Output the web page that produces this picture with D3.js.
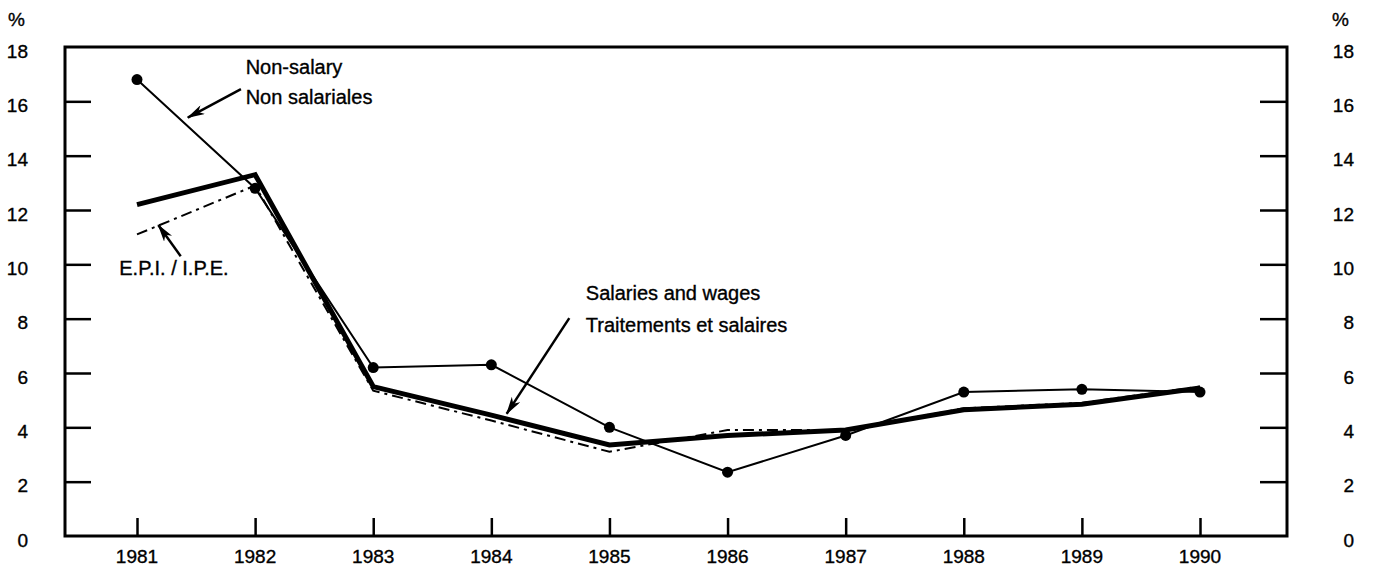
<!DOCTYPE html>
<html>
<head>
<meta charset="utf-8">
<script src="https://cdn.jsdelivr.net/npm/d3@7"></script>
<style>
    body { margin: 0; background: #fff; }
    text { font-family: "Liberation Sans", Arial, Helvetica, sans-serif; fill: #000; stroke: #000; stroke-width: 0.35; }
</style>
</head>
<body>
<div id="chart"></div>
<script>
// years on the x axis
const years = [1981, 1982, 1983, 1984, 1985, 1986, 1987, 1988, 1989, 1990];

// annual % change
const nonSalary = [16.8, 12.8, 6.2, 6.3, 4.0, 2.35, 3.7, 5.3, 5.4, 5.3];
const salariesWages = [12.2, 13.3, 5.5, 4.45, 3.35, 3.7, 3.9, 4.65, 4.85, 5.45];
const epi = [11.1, 12.9, 5.35, 4.25, 3.1, 3.9, 3.9, 4.7, 4.9, 5.5];

const yTicks = [0, 2, 4, 6, 8, 10, 12, 14, 16, 18];

// labels, anchored in data units (year, %)
const labels = [
    { text: 'Non-salary', x: 1981.92, y: 17.0 },
    { text: 'Non salariales', x: 1981.92, y: 15.9 },
    { text: 'E.P.I. / I.P.E.', x: 1980.85, y: 9.6 },
    { text: 'Salaries and wages', x: 1984.8, y: 8.7 },
    { text: 'Traitements et salaires', x: 1984.8, y: 7.5 }
];
const arrows = [
    { from: [1981.88, 16.45], to: [1981.43, 15.4] },
    { from: [1981.37, 10.3], to: [1981.18, 11.45] },
    { from: [1984.66, 8.02], to: [1984.13, 4.5] }
];

const width = 1379, height = 567;
const frame = { left: 65, right: 1287, top: 47, bottom: 536 };

const svg = d3.select('#chart')
    .append('svg')
    .attr('width', width)
    .attr('height', height);

// scales
const x = d3.scaleLinear()
    .domain([1981, 1990])
    .range([137, 1200]);
const y = d3.scaleLinear()
    .domain([0, 18])
    .range([frame.bottom, frame.top]);

// arrow head
svg.append('defs')
    .append('marker')
    .attr('id', 'head')
    .attr('viewBox', '0 0 18 10')
    .attr('refX', 17)
    .attr('refY', 5)
    .attr('markerWidth', 18)
    .attr('markerHeight', 10)
    .attr('markerUnits', 'userSpaceOnUse')
    .attr('orient', 'auto')
    .append('path')
    .attr('d', 'M0,0 L18,5 L0,10 L5,5 Z')
    .attr('fill', '#000');

// frame
svg.append('rect')
    .attr('x', frame.left)
    .attr('y', frame.top)
    .attr('width', frame.right - frame.left)
    .attr('height', frame.bottom - frame.top)
    .attr('fill', 'none')
    .attr('stroke', '#000')
    .attr('stroke-width', 3);

// y axes: inner ticks, labels outside
const inner = yTicks.filter(d => d > 0 && d < 18);

const gl = svg.append('g')
    .attr('transform', `translate(${frame.left},0)`)
    .call(d3.axisRight(y).tickValues(inner).tickSize(26).tickFormat(''));
const gr = svg.append('g')
    .attr('transform', `translate(${frame.right},0)`)
    .call(d3.axisLeft(y).tickValues(inner).tickSize(27).tickFormat(''));
[gl, gr].forEach(g => {
    g.select('.domain').remove();
    g.selectAll('line').attr('stroke', '#000').attr('stroke-width', 2.5);
});

const gx = svg.append('g')
    .attr('transform', `translate(0,${frame.bottom})`)
    .call(d3.axisTop(x).tickValues(years).tickSize(18).tickFormat(''));
gx.select('.domain').remove();
gx.selectAll('line').attr('stroke', '#000').attr('stroke-width', 2.5);

svg.selectAll('.ylab-l')
    .data(yTicks)
    .enter()
    .append('text')
    .attr('class', 'ylab-l')
    .attr('x', 28)
    .attr('y', d => y(d) + 4)
    .attr('text-anchor', 'end')
    .attr('dominant-baseline', 'central')
    .attr('font-size', 19)
    .text(d => d);

svg.selectAll('.ylab-r')
    .data(yTicks)
    .enter()
    .append('text')
    .attr('class', 'ylab-r')
    .attr('x', 1354)
    .attr('y', d => y(d) + 4)
    .attr('text-anchor', 'end')
    .attr('dominant-baseline', 'central')
    .attr('font-size', 19)
    .text(d => d);

svg.selectAll('.xlab')
    .data(years)
    .enter()
    .append('text')
    .attr('class', 'xlab')
    .attr('x', d => x(d))
    .attr('y', 556)
    .attr('text-anchor', 'middle')
    .attr('dominant-baseline', 'central')
    .attr('font-size', 19)
    .text(d => d);

[8, 1332].forEach(px => {
    svg.append('text')
        .attr('x', px)
        .attr('y', 19)
        .attr('dominant-baseline', 'central')
        .attr('font-size', 19)
        .text('%');
});

// series
const line = d3.line()
    .x((d, i) => x(years[i]))
    .y(d => y(d));

svg.append('path')
    .datum(epi)
    .attr('d', line)
    .attr('fill', 'none')
    .attr('stroke', '#000')
    .attr('stroke-width', 2)
    .attr('stroke-dasharray', '11,5,3,5');

svg.append('path')
    .datum(salariesWages)
    .attr('d', line)
    .attr('fill', 'none')
    .attr('stroke', '#000')
    .attr('stroke-width', 5)
    .attr('stroke-linejoin', 'miter');

svg.append('path')
    .datum(nonSalary)
    .attr('d', line)
    .attr('fill', 'none')
    .attr('stroke', '#000')
    .attr('stroke-width', 2);

svg.selectAll('.dot')
    .data(nonSalary)
    .enter()
    .append('circle')
    .attr('class', 'dot')
    .attr('cx', (d, i) => x(years[i]))
    .attr('cy', d => y(d))
    .attr('r', 5.5)
    .attr('fill', '#000');

// annotations
svg.selectAll('.note')
    .data(labels)
    .enter()
    .append('text')
    .attr('class', 'note')
    .attr('x', d => x(d.x))
    .attr('y', d => y(d.y))
    .attr('font-size', 20)
    .text(d => d.text);

svg.selectAll('.arrow')
    .data(arrows)
    .enter()
    .append('line')
    .attr('class', 'arrow')
    .attr('x1', d => x(d.from[0]))
    .attr('y1', d => y(d.from[1]))
    .attr('x2', d => x(d.to[0]))
    .attr('y2', d => y(d.to[1]))
    .attr('stroke', '#000')
    .attr('stroke-width', 2.5)
    .attr('marker-end', 'url(#head)');
</script>
</body>
</html>
